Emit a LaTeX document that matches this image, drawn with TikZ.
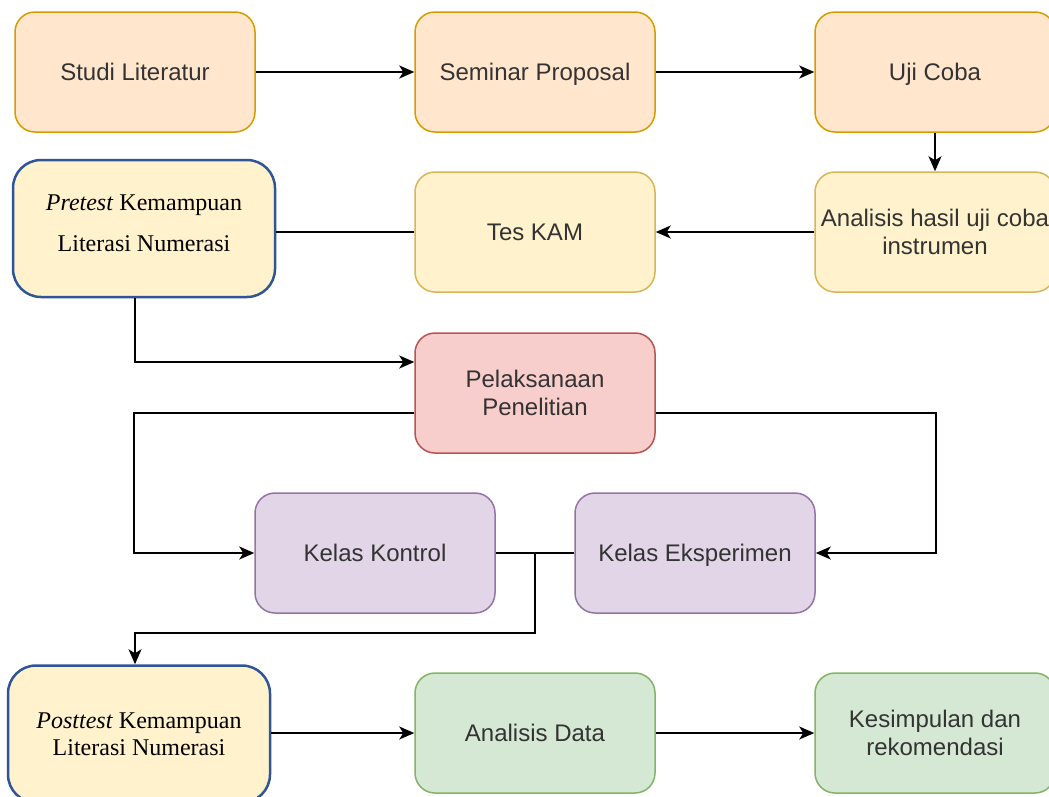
\documentclass[tikz,border=0pt]{standalone}
\usepackage{fontspec}
\setmainfont{Liberation Sans}
\newfontfamily\timesfont{Liberation Serif}
\definecolor{orangeFill}{HTML}{FFE6CC}
\definecolor{orangeLine}{HTML}{D79B00}
\definecolor{yellowFill}{HTML}{FFF2CC}
\definecolor{yellowLine}{HTML}{D6B656}
\definecolor{redFill}{HTML}{F8CECC}
\definecolor{redLine}{HTML}{B85450}
\definecolor{purpleFill}{HTML}{E1D5E7}
\definecolor{purpleLine}{HTML}{9673A6}
\definecolor{greenFill}{HTML}{D5E8D4}
\definecolor{greenLine}{HTML}{82B366}
\definecolor{testLine}{HTML}{2F5597}
\usetikzlibrary{arrows.meta, positioning, calc}

\begin{document}
\begin{tikzpicture}[x=1pt, y=-1pt,
    box/.style={rectangle, rounded corners=20pt, line width=1.5pt, minimum width=240pt, minimum height=120pt,
        align=center, text=black!80, font=\fontsize{24}{28}\selectfont},
    oneline/.style={text height=22pt, text depth=4.8pt},
    testbox/.style={rectangle, rounded corners=28pt, line width=2.5pt, draw=testLine, fill=yellowFill,
        minimum width=262pt, minimum height=137pt, align=center, font=\timesfont\fontsize{24}{27}\selectfont},
    link/.style={line width=1.8pt},
    flow/.style={line width=1.8pt, -{Stealth[length=15pt, width=13pt, inset=4pt]}}]
    \useasboundingbox (0,0) rectangle (1049,796);
    \clip (0,0) rectangle (1049,796);

    % Persiapan
    \node[box, oneline, fill=orangeFill, draw=orangeLine] (studi) at (135,72) {Studi Literatur};
    \node[box, oneline, fill=orangeFill, draw=orangeLine] (seminar) at (535,72) {Seminar Proposal};
    \node[box, oneline, fill=orangeFill, draw=orangeLine] (uji) at (935,72) {Uji Coba};

    \node[box, fill=yellowFill, draw=yellowLine] (analisis) at (935,232) {Analisis hasil uji coba\\instrumen};
    \node[box, oneline, fill=yellowFill, draw=yellowLine] (tes) at (535,232) {Tes KAM};
    \node[testbox, execute at end node={\rule[-11pt]{0pt}{11pt}}] (pre) at (144,228.5)
        {\textit{Pretest} Kemampuan\\[14pt]Literasi Numerasi};

    % Pelaksanaan
    \node[box, fill=redFill, draw=redLine] (pel) at (535,393) {Pelaksanaan\\Penelitian};
    \node[box, oneline, fill=purpleFill, draw=purpleLine] (kontrol) at (375,553) {Kelas Kontrol};
    \node[box, oneline, fill=purpleFill, draw=purpleLine] (eksp) at (695,553) {Kelas Eksperimen};

    % Akhir
    \node[testbox] (post) at (139,734) {\textit{Posttest} Kemampuan\\Literasi Numerasi};
    \node[box, oneline, fill=greenFill, draw=greenLine] (adata) at (535,733) {Analisis Data};
    \node[box, fill=greenFill, draw=greenLine] (kesim) at (935,733) {Kesimpulan dan\\rekomendasi};

    % Alur
    \draw[flow] (studi) -- (seminar);
    \draw[flow] (seminar) -- (uji);
    \draw[flow] (uji) -- (analisis);
    \draw[flow] (analisis) -- (tes);
    \draw[link] (tes.west) -- (tes.west -| pre.east);
    \draw[flow] ([xshift=-9pt]pre.south) |- ([yshift=31pt]pel.west);
    \draw[flow] ([yshift=-20pt]pel.west) -- ++(-280,0) |- (kontrol.west);
    \draw[flow] ([yshift=-20pt]pel.east) -- ++(280,0) |- (eksp.east);
    \draw[link] (kontrol) -- (eksp);
    \coordinate (split) at ($(kontrol.east)!0.5!(eksp.west)$);
    \draw[flow] (split) -- ++(0,80) -| ([xshift=-4pt]post.north);
    \draw[flow] (post.east |- adata.west) -- (adata);
    \draw[flow] (adata) -- (kesim);
\end{tikzpicture}
\end{document}
